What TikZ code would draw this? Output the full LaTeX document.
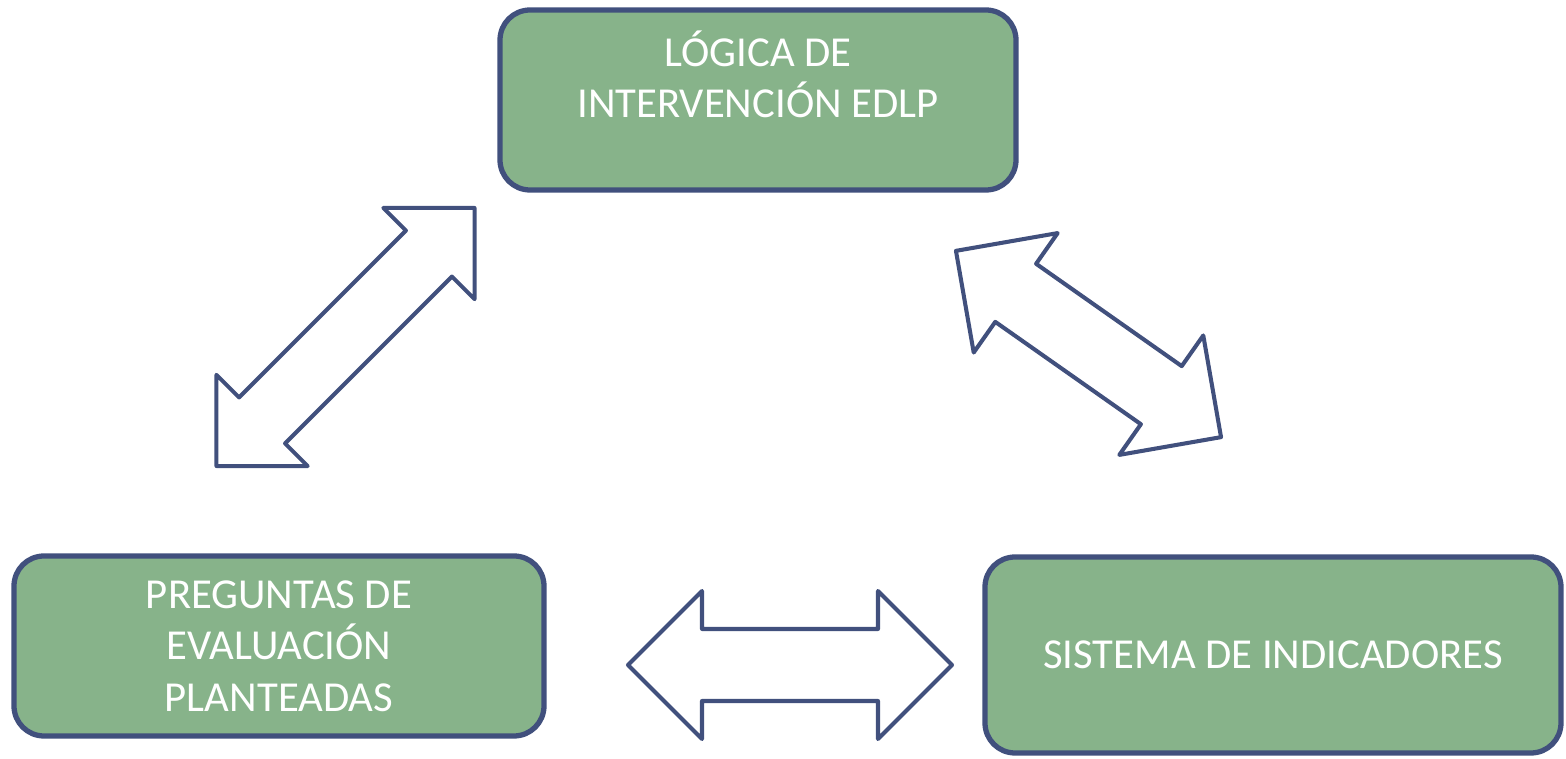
\documentclass[tikz,border=0pt]{standalone}
\usepackage{fontspec}
\setmainfont{Carlito}
\definecolor{boxgreen}{HTML}{87B38A}
\definecolor{edgeblue}{HTML}{41507D}
\tikzset{
  box/.style={draw=edgeblue, line width=1.5pt, fill=boxgreen, rounded corners=0.3cm,
    text=white, align=center, font=\fontsize{12.15}{14.6}\selectfont, inner sep=0pt},
  arrowline/.style={draw=edgeblue, line width=1.15pt, fill=white, line join=round},
  pics/dblarrow/.style n args={4}{code={
    \draw[arrowline] (-#1,0) -- (-#1+#2,#3) -- (-#1+#2,#4) -- (#1-#2,#4) -- (#1-#2,#3)
      -- (#1,0) -- (#1-#2,-#3) -- (#1-#2,-#4) -- (-#1+#2,-#4) -- (-#1+#2,-#3) -- cycle;
  }}
}
\begin{document}
\begin{tikzpicture}
  \useasboundingbox (0,0) rectangle (15.66,7.59);
  % the three boxes
  \node[box, minimum width=5.16cm, minimum height=1.80cm] (logica) at (7.58,6.59)
    {LÓGICA DE\\INTERVENCIÓN EDLP\\\mbox{}};
  \node[box, minimum width=5.30cm, minimum height=1.80cm] (preguntas) at (2.79,1.13)
    {PREGUNTAS DE\\EVALUACIÓN\\PLANTEADAS};
  \node[box, minimum width=5.76cm, minimum height=1.96cm] (sistema) at (12.73,1.04)
    {SISTEMA DE INDICADORES};
  % double block arrows between them
  \path (3.455,4.22) pic[rotate=45] (flecha1) {dblarrow={1.825}{0.645}{0.645}{0.325}};
  \path (10.885,4.15) pic[rotate=-35.1] (flecha2) {dblarrow={1.62}{0.73}{0.73}{0.355}};
  \path (7.90,0.94) pic (flecha3) {dblarrow={1.62}{0.74}{0.74}{0.36}};
\end{tikzpicture}
\end{document}
